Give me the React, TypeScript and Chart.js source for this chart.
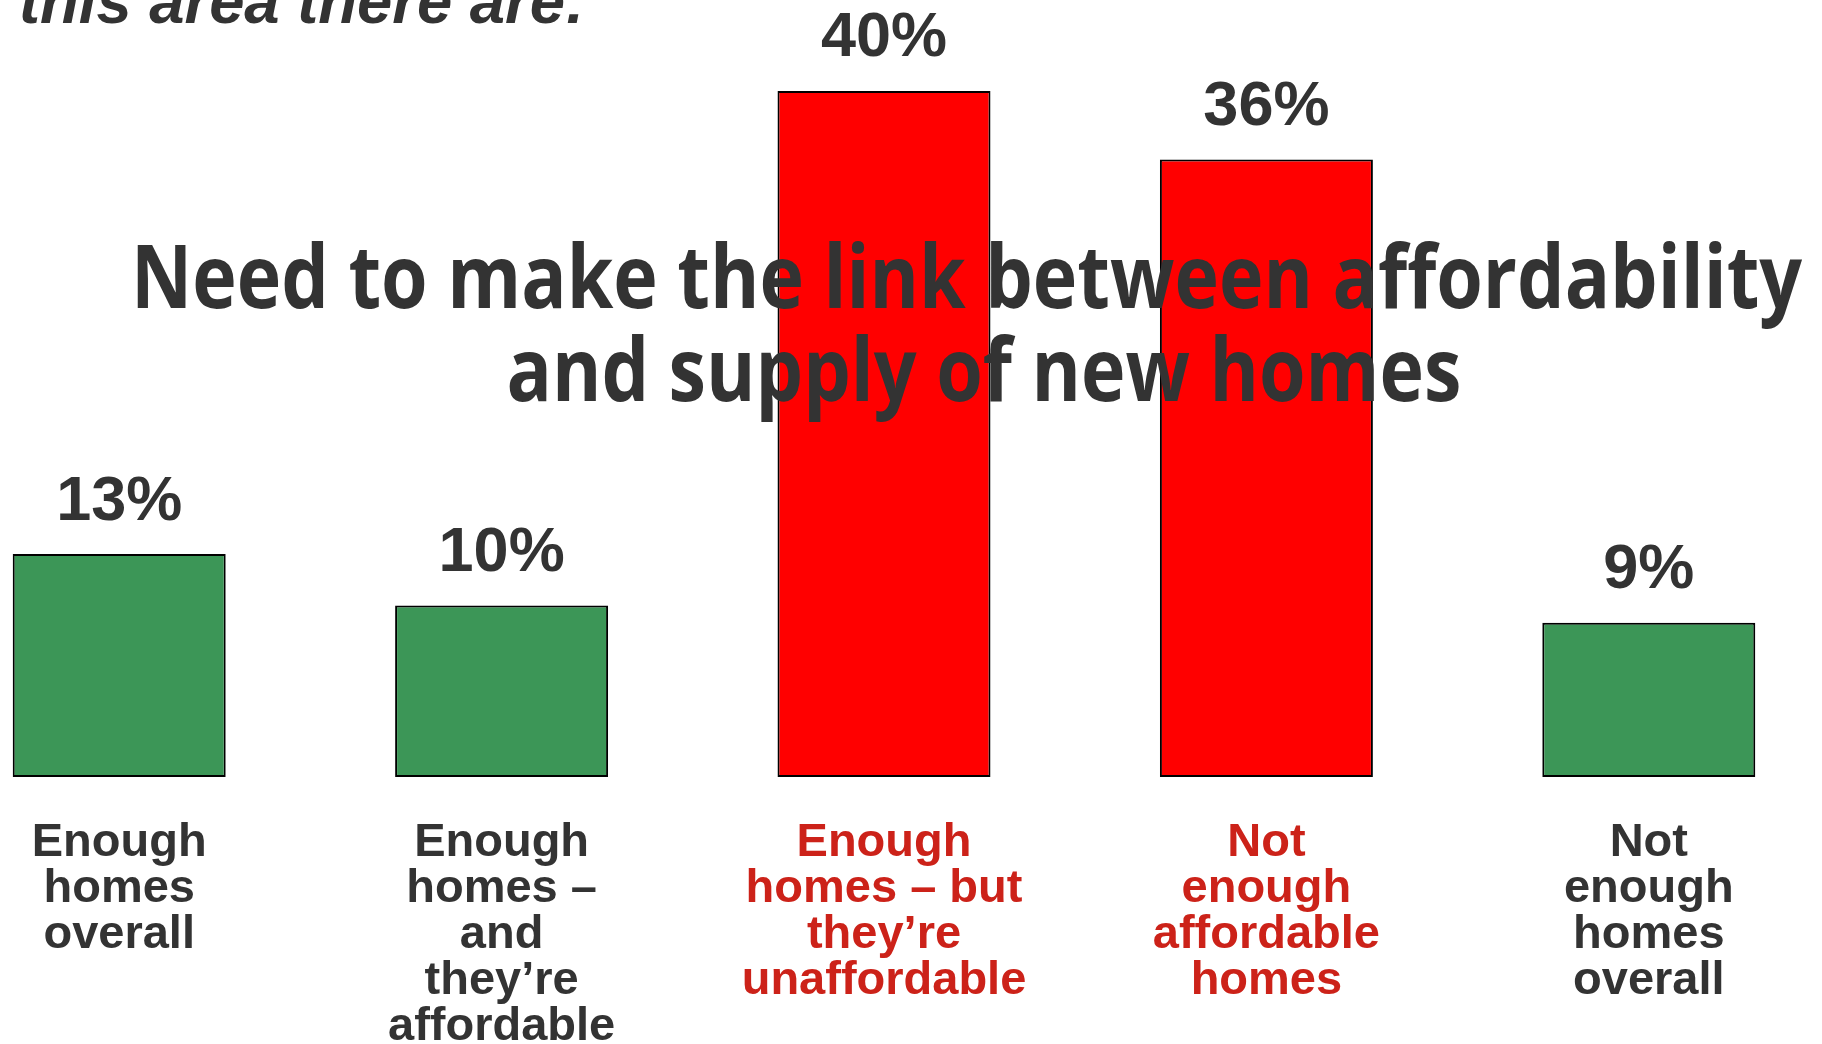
import React, { useEffect, useRef } from "react";
import { Chart, registerables } from "chart.js";

Chart.register(...registerables);

// ---- data ----
const categories: string[][] = [
  ["Enough", "homes", "overall"],
  ["Enough", "homes –", "and", "they’re", "affordable"],
  ["Enough", "homes – but", "they’re", "unaffordable"],
  ["Not", "enough", "affordable", "homes"],
  ["Not", "enough", "homes", "overall"],
];
const values = [13, 10, 40, 36, 9];
const valueLabels = ["13%", "10%", "40%", "36%", "9%"];
const barColors = ["#3c9657", "#3c9657", "#ff0000", "#ff0000", "#3c9657"];
const labelColors = ["#333333", "#333333", "#cc2219", "#cc2219", "#333333"];
const titleLines = ["Need to make the link between affordability", "and supply of new homes"];
const topText = "this area there are:";

// ---- layout constants (page coords -> canvas coords) ----
const SHIFT = 72; // canvas starts at page x = -72
const CANVAS_W = 1912;
const CANVAS_H = 1044;

const overlayPlugin = {
  id: "overlayText",
  afterDatasetsDraw(chart: any) {
    const ctx: CanvasRenderingContext2D = chart.ctx;
    const meta = chart.getDatasetMeta(0);
    ctx.save();

    // value labels above bars
    ctx.font = 'bold 63px "Liberation Sans", Arial, sans-serif';
    ctx.fillStyle = "#333333";
    ctx.textAlign = "center";
    ctx.textBaseline = "alphabetic";
    meta.data.forEach((bar: any, i: number) => {
      const p = bar.getProps(["x", "y"], true);
      ctx.fillText(valueLabels[i], p.x, p.y - 34.5);
    });

    // partially visible heading at the very top
    ctx.font = 'italic bold 63px "Liberation Sans", Arial, sans-serif';
    ctx.textAlign = "left";
    const mt = ctx.measureText(topText);
    const inkT = mt.actualBoundingBoxLeft + mt.actualBoundingBoxRight;
    const sxT = 562 / inkT;
    ctx.save();
    ctx.translate(21 + SHIFT, 22.7);
    ctx.scale(sxT, 1);
    ctx.fillText(topText, mt.actualBoundingBoxLeft, 0);
    ctx.restore();

    // overlaid title
    ctx.font = '700 88px "Open Sans", "Noto Sans", sans-serif';
    ctx.fillStyle = "#333333";
    const m1 = ctx.measureText(titleLines[0]);
    const ink1 = m1.actualBoundingBoxLeft + m1.actualBoundingBoxRight;
    const sx = 1666 / ink1;
    ctx.save();
    ctx.translate(137 + SHIFT, 308);
    ctx.scale(sx, 1);
    ctx.fillText(titleLines[0], m1.actualBoundingBoxLeft, 0);
    ctx.restore();

    const m2 = ctx.measureText(titleLines[1]);
    const ink2 = (m2.actualBoundingBoxLeft + m2.actualBoundingBoxRight) * sx;
    ctx.save();
    ctx.translate(984 - ink2 / 2 + SHIFT, 401);
    ctx.scale(sx, 1);
    ctx.fillText(titleLines[1], m2.actualBoundingBoxLeft, 0);
    ctx.restore();

    ctx.restore();
  },
};

export default function App() {
  const ref = useRef<HTMLCanvasElement>(null);

  useEffect(() => {
    const canvas = ref.current;
    if (!canvas) return;
    const chart = new Chart(canvas, {
      type: "bar",
      data: {
        labels: categories,
        datasets: [
          {
            data: values,
            backgroundColor: barColors,
            borderColor: "#000000",
            borderWidth: 2,
            borderSkipped: false,
            barPercentage: 0.557,
            categoryPercentage: 1,
          },
        ],
      },
      options: {
        responsive: false,
        animation: false,
        devicePixelRatio: 1,
        layout: { padding: 0 },
        plugins: {
          legend: { display: false },
          tooltip: { enabled: false },
          title: { display: false },
        },
        scales: {
          x: {
            grid: { display: false, drawTicks: false },
            border: { display: false },
            ticks: {
              autoSkip: false,
              maxRotation: 0,
              minRotation: 0,
              padding: 43,
              color: (c: any) => labelColors[c.index],
              font: {
                family: '"Liberation Sans", Arial, sans-serif',
                size: 47,
                weight: "bold",
                lineHeight: 0.98,
              },
            },
            afterFit: (s: any) => {
              s.height = 267;
            },
          },
          y: { display: false, min: 0, max: 45.3 },
        },
      },
      plugins: [overlayPlugin],
    } as any);
    if ((document as any).fonts && (document as any).fonts.ready) {
      (document as any).fonts.ready.then(() => {
        try { chart.update(); } catch (e) {}
      });
    }
    return () => chart.destroy();
  }, []);

  return (
    <div
      style={{
        position: "absolute",
        left: 0,
        top: 0,
        width: 1822,
        height: 1044,
        overflow: "hidden",
        background: "#ffffff",
      }}
    >
      <canvas
        ref={ref}
        width={CANVAS_W}
        height={CANVAS_H}
        style={{ position: "absolute", left: -SHIFT, top: 0, width: CANVAS_W, height: CANVAS_H }}
      />
    </div>
  );
}
